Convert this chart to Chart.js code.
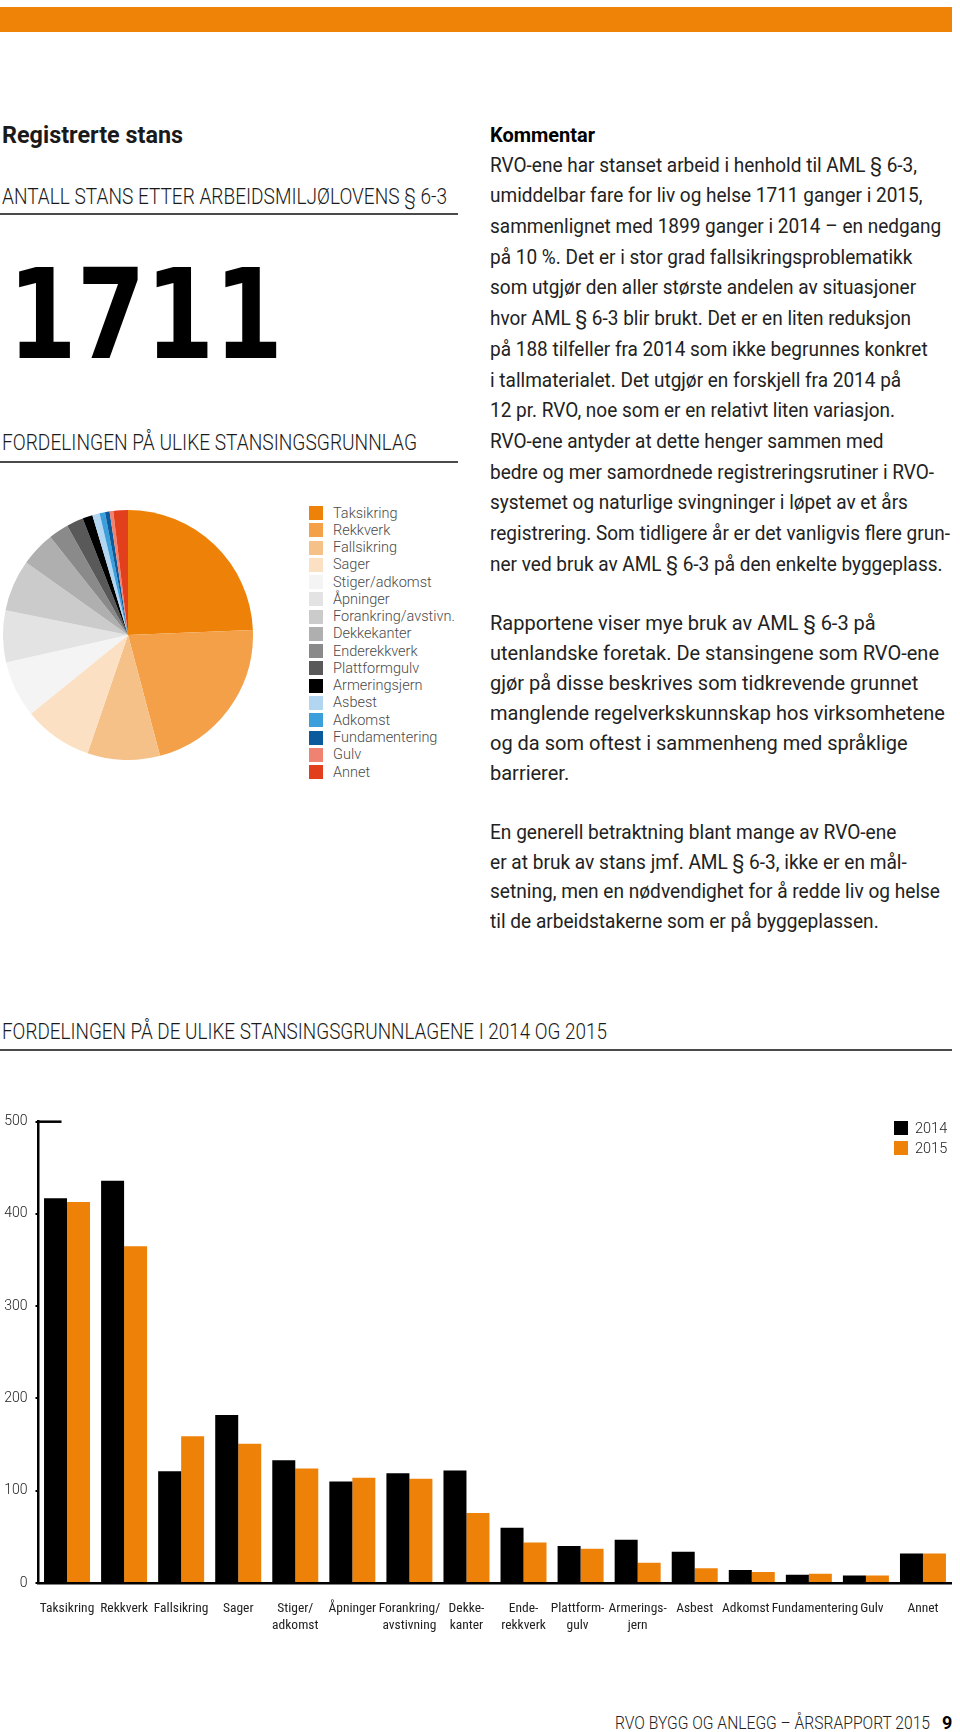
<!DOCTYPE html>
<html lang="no">
<head>
<meta charset="utf-8">
<title>Registrerte stans</title>
<script src="https://cdn.jsdelivr.net/npm/chart.js@4.4.1/dist/chart.umd.min.js"></script>
<style>
  body { margin: 0; background: #fff; }
  #page { position: relative; width: 960px; height: 1732px; overflow: hidden; font-family: Roboto, "Noto Sans", sans-serif; color: #1a1a1a; }
  .abs { position: absolute; white-space: nowrap; }
  .fit { display: inline-block; transform-origin: left center; }
  .rule { position: absolute; height: 2px; background: #4a4a4a; }
  .head { font-size: 22px; font-weight: 300; line-height: 26px; }
  .para { position: absolute; left: 490px; font-size: 20px; transform-origin: left top; color: #222; }
  .para div { white-space: nowrap; }
  .para span { display: inline-block; }
  .lg { position: absolute; font-size: 14.5px; color: #4a4a4a; line-height: 17px; font-weight: 300; }
  .lg i { position: absolute; width: 14px; height: 14px; }
</style>
</head>
<body>
<div id="page">
  <div class="abs" style="left:0;top:7px;width:952px;height:25px;background:#ee8307"></div>

  <div class="abs" style="left:2px;top:120px;line-height:30px;font-size:24px;font-weight:700"><span class="fit" data-w="181">Registrerte stans</span></div>
  <div class="abs head" style="left:2px;top:184px"><span class="fit" data-w="445">ANTALL STANS ETTER ARBEIDSMILJØLOVENS § 6-3</span></div>
  <div class="rule" style="left:0;top:213px;width:458px"></div>

  <div class="abs" style="left:8px;top:252px;font-family:'DejaVu Sans',sans-serif;font-size:125px;line-height:125px;font-weight:700;color:#000"><span class="fit" data-w="275">1711</span></div>

  <div class="abs head" style="left:2px;top:430px"><span class="fit" data-w="415">FORDELINGEN PÅ ULIKE STANSINGSGRUNNLAG</span></div>
  <div class="rule" style="left:0;top:461px;width:458px"></div>

  <canvas id="pie" width="250" height="250" style="position:absolute;left:3px;top:510px"></canvas>
  <div id="pieLegend"></div>

  <div class="abs" style="left:490px;top:121px;line-height:28px;font-size:20px;font-weight:700;color:#000"><span class="fit" data-w="105">Kommentar</span></div>
  <div class="para" id="p1" style="top:149.6px;line-height:30.7px" data-w="427" data-ref="0"></div>
  <div class="para" id="p2" style="top:608px;line-height:30px" data-w="449" data-ref="1"></div>
  <div class="para" id="p3" style="top:818px;line-height:29.7px" data-w="450" data-ref="2"></div>

  <div class="abs head" style="left:2px;top:1019px"><span class="fit" data-w="605">FORDELINGEN PÅ DE ULIKE STANSINGSGRUNNLAGENE I 2014 OG 2015</span></div>
  <div class="rule" style="left:0;top:1049px;width:952px"></div>

  <canvas id="bars" width="960" height="553" style="position:absolute;left:0;top:1100px"></canvas>
  <div id="barLegend"></div>

  <div class="abs" style="left:615px;top:1711px;font-size:18px;line-height:24px;font-weight:300;color:#222"><span class="fit" data-w="315">RVO BYGG OG ANLEGG – ÅRSRAPPORT 2015</span></div>
  <div class="abs" style="left:942px;top:1711px;font-size:18px;line-height:24px;font-weight:700;color:#000">9</div>
</div>

<script>
const pieLabels = ['Taksikring', 'Rekkverk', 'Fallsikring', 'Sager', 'Stiger/adkomst', 'Åpninger',
  'Forankring/avstivn.', 'Dekkekanter', 'Enderekkverk', 'Plattformgulv', 'Armeringsjern',
  'Asbest', 'Adkomst', 'Fundamentering', 'Gulv', 'Annet'];
const barLabels = ['Taksikring', 'Rekkverk', 'Fallsikring', 'Sager', ['Stiger/', 'adkomst'], 'Åpninger',
  ['Forankring/', 'avstivning'], ['Dekke-', 'kanter'], ['Ende-', 'rekkverk'], ['Plattform-', 'gulv'],
  ['Armerings-', 'jern'], 'Asbest', 'Adkomst', 'Fundamentering', 'Gulv', 'Annet'];
const stans2014 = [417, 436, 121, 182, 133, 110, 119, 122, 60, 40, 47, 34, 14, 9, 8, 32];
const stans2015 = [413, 365, 159, 151, 124, 114, 113, 76, 44, 37, 22, 16, 12, 10, 8, 32];
const yMax = 500;
const yStep = 100;

const pieColors = ['#ee8208', '#f3a048', '#f6c188', '#fbe0c3', '#f4f4f4', '#e3e3e3', '#cbcbcb', '#afafaf',
  '#8a8a8a', '#595959', '#000000', '#b2d5f1', '#3a9fda', '#0b5a9b', '#f08272', '#e2401c'];
const orange = '#ee8208';

const text1 = [
  'RVO-ene har stanset arbeid i henhold til AML § 6-3,',
  'umiddelbar fare for liv og helse 1711 ganger i 2015,',
  'sammenlignet med 1899 ganger i 2014 – en nedgang',
  'på 10 %. Det er i stor grad fallsikringsproblematikk',
  'som utgjør den aller største andelen av situasjoner',
  'hvor AML § 6-3 blir brukt. Det er en liten reduksjon',
  'på 188 tilfeller fra 2014 som ikke begrunnes konkret',
  'i tallmaterialet. Det utgjør en forskjell fra 2014 på',
  '12 pr. RVO, noe som er en relativt liten variasjon.',
  'RVO-ene antyder at dette henger sammen med',
  'bedre og mer samordnede registreringsrutiner i RVO-',
  'systemet og naturlige svingninger i løpet av et års',
  'registrering. Som tidligere år er det vanligvis flere grun-',
  'ner ved bruk av AML § 6-3 på den enkelte byggeplass.'
];
const text2 = [
  'Rapportene viser mye bruk av AML § 6-3 på',
  'utenlandske foretak. De stansingene som RVO-ene',
  'gjør på disse beskrives som tidkrevende grunnet',
  'manglende regelverkskunnskap hos virksomhetene',
  'og da som oftest i sammenheng med språklige',
  'barrierer.'
];
const text3 = [
  'En generell betraktning blant mange av RVO-ene',
  'er at bruk av stans jmf. AML § 6-3, ikke er en mål-',
  'setning, men en nødvendighet for å redde liv og helse',
  'til de arbeidstakerne som er på byggeplassen.'
];

function fillPara(id, lines) {
  const box = document.getElementById(id);
  lines.forEach(l => {
    const d = document.createElement('div');
    const s = document.createElement('span');
    s.textContent = l;
    d.appendChild(s);
    box.appendChild(d);
  });
  const ref = box.querySelectorAll('span')[+box.dataset.ref];
  const k = +box.dataset.w / ref.getBoundingClientRect().width;
  box.style.transform = 'scaleX(' + k + ')';
}
fillPara('p1', text1);
fillPara('p2', text2);
fillPara('p3', text3);

document.querySelectorAll('.fit').forEach(el => {
  const k = +el.dataset.w / el.getBoundingClientRect().width;
  el.style.transform = 'scaleX(' + k + ')';
});

// legends
const pieLegend = document.getElementById('pieLegend');
pieLabels.forEach((name, i) => {
  const d = document.createElement('div');
  d.className = 'lg';
  d.style.left = '309px';
  d.style.top = (504.5 + i * 17.27) + 'px';
  d.innerHTML = '<i style="left:0;top:1.5px;background:' + pieColors[i] + '"></i><span style="margin-left:24px">' + name + '</span>';
  pieLegend.appendChild(d);
});
const barLegend = document.getElementById('barLegend');
[['2014', '#000'], ['2015', orange]].forEach((it, i) => {
  const d = document.createElement('div');
  d.className = 'lg';
  d.style.left = '894px';
  d.style.top = (1119.5 + i * 20) + 'px';
  d.style.color = '#222';
  d.innerHTML = '<i style="left:0;top:1.5px;background:' + it[1] + '"></i><span style="margin-left:21px">' + it[0] + '</span>';
  barLegend.appendChild(d);
});

Chart.defaults.font.family = "'Liberation Sans Narrow', 'Roboto Condensed', Roboto, sans-serif";
Chart.defaults.color = '#222';

new Chart(document.getElementById('pie'), {
  type: 'pie',
  data: {
    labels: pieLabels,
    datasets: [{ data: stans2015, backgroundColor: pieColors, borderWidth: 0, hoverOffset: 0 }]
  },
  options: {
    responsive: false,
    animation: false,
    plugins: { legend: { display: false }, tooltip: { enabled: false } }
  }
});

// the short top stub at 500
const topStub = {
  id: 'topStub',
  afterDraw(chart) {
    const { ctx, chartArea, scales } = chart;
    const y = scales.y.getPixelForValue(yMax);
    ctx.save();
    ctx.strokeStyle = '#000';
    ctx.lineWidth = 2.5;
    ctx.beginPath();
    ctx.moveTo(chartArea.left - 1, y);
    ctx.lineTo(chartArea.left + 23, y);
    ctx.stroke();
    ctx.restore();
  }
};

// nudge the crowded labels apart as in the print layout
const sp = '\u2002\u2002';
function xLabel(value, index) {
  const l = barLabels[index];
  if (l === 'Adkomst') return l + sp;
  if (l === 'Fundamentering' || l === 'Gulv') return sp + l;
  if (Array.isArray(l) && l[0] === 'Plattform-') return l.map(s => s + '\u2002');
  return l;
}

new Chart(document.getElementById('bars'), {
  type: 'bar',
  data: {
    labels: barLabels,
    datasets: [
      { label: '2014', data: stans2014, backgroundColor: '#000' },
      { label: '2015', data: stans2015, backgroundColor: orange }
    ]
  },
  options: {
    responsive: false,
    animation: false,
    layout: { padding: { top: 21.7, left: 0.5, right: 8.5, bottom: 0 } },
    datasets: { bar: { barPercentage: 1, categoryPercentage: 0.806 } },
    plugins: { legend: { display: false }, tooltip: { enabled: false } },
    scales: {
      x: {
        grid: { display: false },
        border: { display: true, color: '#000', width: 2.5 },
        ticks: { font: { size: 13.5, lineHeight: 1.25 }, maxRotation: 0, minRotation: 0, autoSkip: false, padding: 9, callback: xLabel },
        afterFit(scale) { scale.height = 70; }
      },
      y: {
        min: 0,
        max: yMax,
        ticks: { stepSize: yStep, font: { family: 'Roboto, sans-serif', size: 14, weight: 300 }, padding: 8 },
        grid: { drawOnChartArea: false, drawTicks: true, tickLength: 3, color: '#000', lineWidth: 2 },
        border: { display: true, color: '#000', width: 2.5 },
        afterFit(scale) { scale.width = 38; }
      }
    }
  },
  plugins: [topStub]
});
</script>
</body>
</html>
